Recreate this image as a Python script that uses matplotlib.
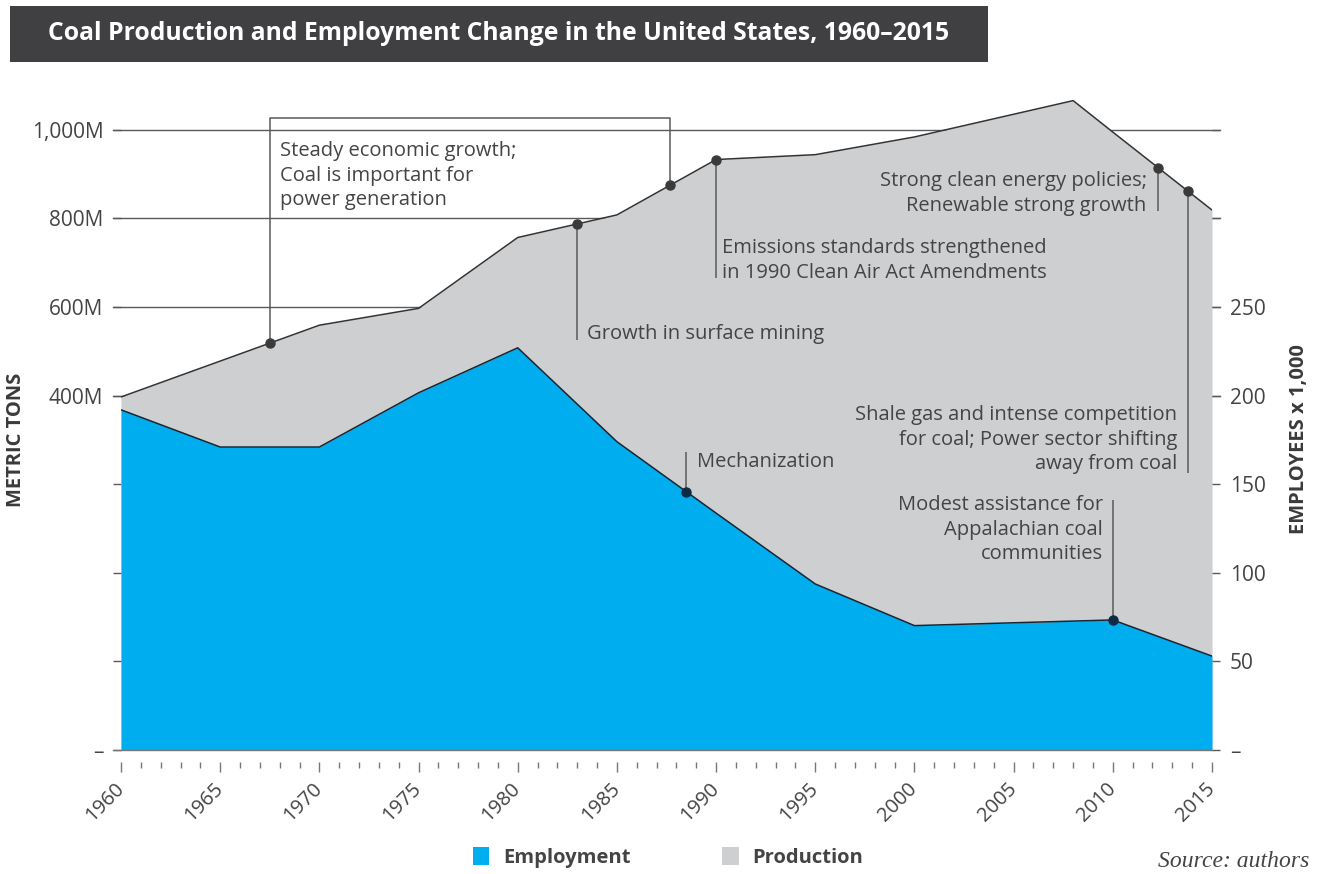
import numpy as np
import matplotlib
matplotlib.use('Agg')
import matplotlib.pyplot as plt
from matplotlib.patches import Rectangle, Patch
from matplotlib.ticker import MultipleLocator

plt.rcParams['font.family'] = ['Open Sans', 'DejaVu Sans']

# ---------------- data ----------------
prod_years = [1960, 1965, 1970, 1975, 1980, 1985, 1990, 1995, 2000, 2008, 2010, 2015]
production = [397, 478, 559, 597, 757, 808, 933, 944, 984, 1066, 995, 819]   # million metric tons
emp_years = [1960, 1965, 1970, 1975, 1980, 1985, 1990, 1995, 2000, 2010, 2015]
employment = [192, 171, 171, 201.6, 227, 174, 133.7, 93.7, 70.2, 73.4, 53]   # thousands

left_ticks = [-400, -200, 0, 200, 400, 600, 800, 1000]
left_labels = ['–', '', '', '', '400M', '600M', '800M', '1,000M']
right_ticks = [0, 50, 100, 150, 200, 250, 300, 350]
right_labels = ['–', '50', '100', '150', '200', '250', '', '']
grid_values = [400, 600, 800, 1000]
year_ticks = list(range(1960, 2016, 5))

title = "Coal Production and Employment Change in the United States, 1960–2015"

BLUE = '#00ADEF'
GRAY = '#CECFD1'
TXT = '#444444'
LINE = '#5a5a5a'
FS = 14.5

W, H = 1319, 874
fig = plt.figure(figsize=(W / 100, H / 100), dpi=100)
ax = fig.add_axes([121 / W, 1 - 750 / H, 1091 / W, 660 / H])
ax2 = ax.twinx()
E_TOP = 372.5
ax2.set_ylim(0, E_TOP)
ax.set_ylim(-400, 4 * E_TOP - 400)
ax.set_xlim(1960, 2015)

for a in (ax, ax2):
    for s in a.spines.values():
        s.set_visible(False)
ax.spines['bottom'].set_position(('outward', 8.6))

# grid lines (behind areas)
for g in grid_values:
    ax.axhline(g, xmin=-0.0075, xmax=1.0075, color=LINE, lw=1.0, zorder=0, clip_on=False)

# areas
ax.fill_between(prod_years, production, -400, color=GRAY, zorder=1, lw=0)
ax.plot(prod_years, production, color='#333333', lw=1.1, zorder=2)
ax2.fill_between(emp_years, employment, 0, color=BLUE, zorder=1, lw=0)
ax2.plot(emp_years, employment, color='#1a2533', lw=1.1, zorder=2)
ax2.axhline(0, xmin=-0.0075, xmax=1.0, color='#777777', lw=1.0, zorder=3, clip_on=False)

# ticks
ax.set_yticks(left_ticks)
ax.set_yticklabels(left_labels)
ax2.set_yticks(right_ticks)
ax2.set_yticklabels(right_labels)
ax.tick_params(axis='y', length=5.8, width=1, color=LINE, pad=7, labelsize=15, labelcolor=TXT)
ax2.tick_params(axis='y', length=5.8, width=1, color=LINE, pad=7, labelsize=15, labelcolor=TXT)
ax.set_xticks(year_ticks)
ax.xaxis.set_minor_locator(MultipleLocator(1))
ax.tick_params(axis='x', which='major', length=7.2, width=1, color='#777777', pad=10,
               labelsize=FS, labelcolor=TXT)
ax.tick_params(axis='x', which='minor', length=4, width=1, color='#777777')
for lab in ax.get_xticklabels():
    lab.set_rotation(45)
    lab.set_ha('right')
    lab.set_va('center')
    lab.set_rotation_mode('anchor')

# ---------------- annotations ----------------
def prod_at(y):
    return float(np.interp(y, prod_years, production))

def emp_at(y):
    return float(np.interp(y, emp_years, employment))

line_kw = dict(color=LINE, lw=1.1, zorder=5, solid_capstyle='butt')
pdot = dict(marker='o', ms=6.5, color='#3a3a3a', zorder=6, ls='none')
edot = dict(marker='o', ms=6.5, color='#0f2a44', zorder=6, ls='none')
tkw = dict(fontsize=FS, color=TXT, linespacing=1.3, zorder=7)

# bracket: steady growth
b1, b2, btop = 1967.5, 1987.7, 1027
ax.plot([b1, b1, b2, b2], [prod_at(b1), btop, btop, prod_at(b2)], **line_kw)
ax.plot([b1, b2], [prod_at(b1), prod_at(b2)], **pdot)
ax.text(1968.0, 896, "Steady economic growth;\nCoal is important for\npower generation",
        ha='left', va='center', **tkw)

# growth in surface mining
y0 = 1983
ax.plot([y0, y0], [prod_at(y0), 525], **line_kw)
ax.plot([y0], [prod_at(y0)], **pdot)
ax.text(1983.5, 539, "Growth in surface mining", ha='left', va='center', **tkw)

# emissions standards
y0 = 1990
ax.plot([y0, y0], [prod_at(y0), 665], **line_kw)
ax.plot([y0], [prod_at(y0)], **pdot)
ax.text(1990.3, 705, "Emissions standards strengthened\nin 1990 Clean Air Act Amendments",
        ha='left', va='center', **tkw)

# clean energy
y0 = 2012.3
ax.plot([y0, y0], [prod_at(y0), 817], **line_kw)
ax.plot([y0], [prod_at(y0)], **pdot)
ax.text(2011.7, 856, "Strong clean energy policies;\nRenewable strong growth",
        ha='right', va='center', **tkw)

# shale gas
y0 = 2013.8
ax.plot([y0, y0], [prod_at(y0), 226], **line_kw)
ax.plot([y0], [prod_at(y0)], **pdot)
ax.text(2013.25, 300, "Shale gas and intense competition\nfor coal; Power sector shifting\naway from coal",
        ha='right', va='center', **tkw)

# mechanization (employment)
y0 = 1988.5
ax2.plot([y0, y0], [emp_at(y0), 168.2], **line_kw)
ax2.plot([y0], [emp_at(y0)], **edot)
ax2.text(1989.05, 162.5, "Mechanization", ha='left', va='center', **tkw)

# Appalachian assistance
y0 = 2010
ax2.plot([y0, y0], [emp_at(y0), 141], **line_kw)
ax2.plot([y0], [emp_at(y0)], **edot)
ax2.text(2009.5, 124.2, "Modest assistance for\nAppalachian coal\ncommunities",
         ha='right', va='center', **tkw)

# axis titles
fig.text(16 / W, 1 - 440 / H, "METRIC TONS", rotation=90, ha='center', va='center',
         fontsize=14.5, fontweight='bold', color='#3a3a3a')
fig.text(1299 / W, 1 - 439 / H, "EMPLOYEES x 1,000", rotation=90, ha='center', va='center',
         fontsize=14.5, fontweight='bold', color='#3a3a3a')

# title bar
fig.patches.append(Rectangle((10 / W, 1 - 62 / H), 978 / W, 56 / H, transform=fig.transFigure,
                             facecolor='#404042', edgecolor='none', zorder=0))
fig.text(48 / W, 1 - 34 / H, title, ha='left', va='center', fontsize=17.8, fontweight='bold',
         color='white')

# legend
handles = [Patch(facecolor=BLUE, edgecolor='none', label='Employment'),
           Patch(facecolor=GRAY, edgecolor='none', label='Production')]
leg = fig.legend(handles=handles, loc='lower left', bbox_to_anchor=(455 / W, -0.014),
                 ncol=2, frameon=False, handlelength=0.8, handleheight=1.0,
                 columnspacing=4.55, handletextpad=0.7,
                 prop={'weight': 'bold', 'size': 14.5})
for t in leg.get_texts():
    t.set_color(TXT)

fig.text(1158 / W, 1 - 867 / H, "Source: authors", ha='left', va='baseline', fontsize=17,
         style='italic', family='Liberation Serif', color=TXT)

fig.savefig('out.png', dpi=100)
